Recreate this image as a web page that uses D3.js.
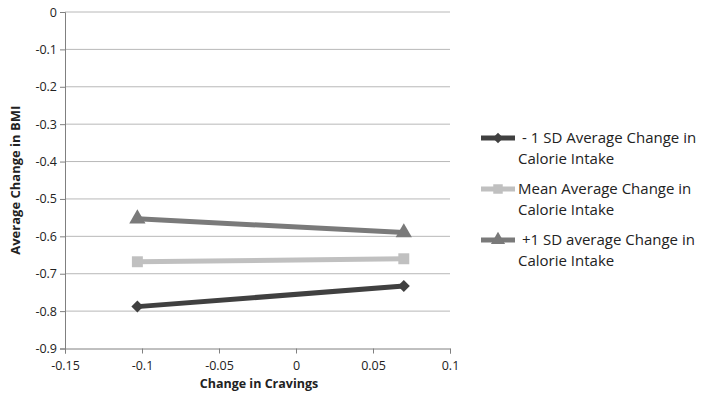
<!DOCTYPE html>
<html>
<head>
<meta charset="utf-8">
<script src="https://cdn.jsdelivr.net/npm/d3@7"></script>
<style>
  body { margin: 0; background: #fff; }
  text { font-family: "Open Sans", "Liberation Sans", sans-serif; fill: #222; }
</style>
</head>
<body>
<script>
    // values
    const cravings = [-0.103, 0.070];
    const lowCal = [-0.788, -0.733];
    const meanCal = [-0.668, -0.660];
    const highCal = [-0.553, -0.590];
    const seriesNames = [
        ['- 1 SD Average Change in', 'Calorie Intake'],
        ['Mean Average Change in', 'Calorie Intake'],
        ['+1 SD average Change in', 'Calorie Intake']
    ];
    const xTicks = [-0.15, -0.1, -0.05, 0, 0.05, 0.1];
    const yTicks = [0, -0.1, -0.2, -0.3, -0.4, -0.5, -0.6, -0.7, -0.8, -0.9];

    const measurements = { width: 704, height: 401 };
    const plot = { left: 65, right: 450, top: 12, bottom: 348.5 };

    const svg = d3.select('body')
        .append('svg')
        .attr('width', measurements.width)
        .attr('height', measurements.height);

    const x = d3.scaleLinear().domain([-0.15, 0.1]).range([plot.left, plot.right]);
    const y = d3.scaleLinear().domain([-0.9, 0]).range([plot.bottom, plot.top]);

    // plain hyphen for negatives, like the original
    const fmt = d => String(+d.toFixed(2));

    // gridlines
    svg.append('g')
        .selectAll('line')
        .data(yTicks.filter(d => d !== -0.9))
        .enter()
        .append('line')
        .attr('x1', plot.left)
        .attr('x2', plot.right)
        .attr('y1', d => y(d))
        .attr('y2', d => y(d))
        .attr('stroke', '#b8b8b8')
        .attr('stroke-width', 1);

    // y axis
    const yAxis = svg.append('g')
        .attr('transform', `translate(${plot.left},0)`)
        .call(d3.axisLeft(y).tickValues(yTicks).tickSize(5).tickFormat(fmt));
    // x axis
    const xAxis = svg.append('g')
        .attr('transform', `translate(0,${plot.bottom})`)
        .call(d3.axisBottom(x).tickValues(xTicks).tickSize(5).tickFormat(fmt));

    [yAxis, xAxis].forEach(a => {
        a.select('.domain').attr('stroke', '#808080');
        a.selectAll('.tick line').attr('stroke', '#808080');
        a.selectAll('.tick text')
            .style('font-family', '"Open Sans", "Liberation Sans", sans-serif')
            .style('font-size', '12.5px')
            .attr('fill', '#222');
    });
    xAxis.selectAll('.tick text').attr('dy', '1.05em');

    // axis titles
    svg.append('text')
        .attr('transform', `translate(20,${(plot.top + plot.bottom) / 2}) rotate(-90)`)
        .attr('text-anchor', 'middle')
        .style('font-size', '13px')
        .style('font-weight', 'bold')
        .text('Average Change in BMI');

    svg.append('text')
        .attr('x', 259)
        .attr('y', 388)
        .attr('text-anchor', 'middle')
        .style('font-size', '12.5px')
        .style('font-weight', 'bold')
        .text('Change in Cravings');

    const series = [
        { values: lowCal, color: '#404040', marker: d3.symbolSquare, size: 72, rot: 45 },
        { values: meanCal, color: '#c0c0c0', marker: d3.symbolSquare, size: 120, rot: 0 },
        { values: highCal, color: '#7a7a7a', marker: d3.symbolTriangle, size: 115, rot: 0 }
    ];

    const line = d3.line()
        .x((d, i) => x(cravings[i]))
        .y(d => y(d));

    const lines = svg.append('g');
    series.forEach(s => {
        lines.append('path')
            .attr('d', line(s.values))
            .attr('fill', 'none')
            .attr('stroke', s.color)
            .attr('stroke-width', 5);

        lines.selectAll(null)
            .data(s.values)
            .enter()
            .append('path')
            .attr('transform', (d, i) => `translate(${x(cravings[i])},${y(d)}) rotate(${s.rot})`)
            .attr('d', d3.symbol().type(s.marker).size(s.size))
            .attr('fill', s.color);
    });

    // legend
    const legend = svg.append('g');
    const rowY = [138, 189, 240];
    series.forEach((s, i) => {
        const g = legend.append('g').attr('transform', `translate(0,${rowY[i]})`);
        g.append('line')
            .attr('x1', 481).attr('x2', 515)
            .attr('y1', 0).attr('y2', 0)
            .attr('stroke', s.color)
            .attr('stroke-width', 5);
        g.append('path')
            .attr('transform', `translate(498,0) rotate(${s.rot})`)
            .attr('d', d3.symbol().type(s.marker).size(s.size * 0.75))
            .attr('fill', s.color);
        g.selectAll('text')
            .data(seriesNames[i])
            .enter()
            .append('text')
            .attr('x', (d, j) => j === 0 ? (i === 1 ? 518 : 522) : 518)
            .attr('y', (d, j) => j * 21 + 5)
            .style('font-size', '15px')
            .text(d => d);
    });
</script>
</body>
</html>
